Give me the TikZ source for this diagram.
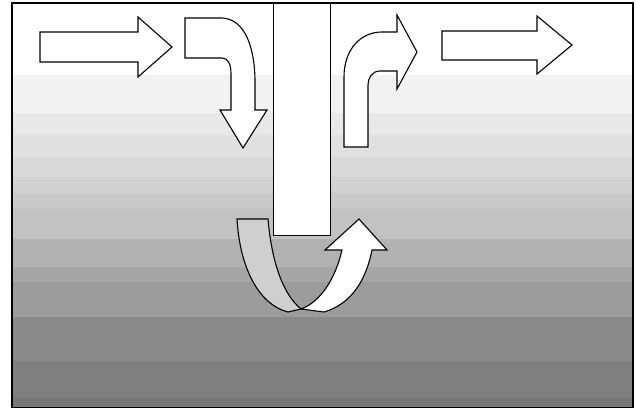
\documentclass[tikz,border=0pt]{standalone}
\begin{document}
\begin{tikzpicture}[x=1pt,y=-1pt,
  arrowshape/.style={draw=black,line width=1.1pt,fill=white,line join=miter},
  grayshape/.style={draw=black,line width=1.1pt,fill=black!19}]
\useasboundingbox (0,0) rectangle (636,409);
\fill[white] (0,0) rectangle (636,409);
% background bands
\foreach \ya/\yb/\g in {3/75/0,75/113/5,113/135/9,135/157/12,157/177/15,177/193/18,193/209/21,209/239/24,239/267/30,267/282/35,282/317/39,317/361/46,361/397/50,397/408/53}{
  \fill[black!\g] (12,\ya) rectangle (633,\yb);
}
\draw[line width=1.3pt] (12,3) rectangle (633,407.5);
% pipe
\node[draw=black,line width=1.1pt,fill=white,minimum width=57pt,minimum height=232pt,inner sep=0pt,anchor=north west] (pipe) at (273,3) {};
% arrow 1
\draw[arrowshape] (40,32) -- (138,32) -- (138,17) -- (172,47) -- (138,77) -- (138,62) -- (40,62) -- cycle;
% arrow 2 bend down
\draw[arrowshape] (185,18) -- (222,18) .. controls (246,19) and (255,50) .. (255,82) -- (255,110) -- (267,110) -- (243,148) -- (220,110) -- (231,110) -- (231,74) .. controls (231,64) and (228,58) .. (222,58) -- (185,58) -- cycle;
% arrow 3 bend up-right
\draw[arrowshape] (344,147) -- (344,77) .. controls (344,50) and (360,32) .. (382,32) -- (397,32) -- (397,15) -- (417,52) -- (397,89) -- (397,71) -- (380,71) .. controls (372,71) and (368,78) .. (368,85) -- (368,147) -- cycle;
% arrow 4
\draw[arrowshape] (442,31) -- (537,31) -- (537,16) -- (572,45) -- (537,74) -- (537,60) -- (442,60) -- cycle;
% U arrow: gray part
\draw[grayshape] (237,219) -- (268,219) .. controls (272,265) and (284,295) .. (301,309) -- (288,312) .. controls (260,305) and (240,270) .. (237,219) -- cycle;
% U arrow: white part
\draw[arrowshape] (301,309) -- (324,312) .. controls (348,305) and (365,285) .. (372,250) -- (387,250) -- (359,219) -- (325,250) -- (342,250) .. controls (335,280) and (320,302) .. (301,309) -- cycle;
\end{tikzpicture}
\end{document}
